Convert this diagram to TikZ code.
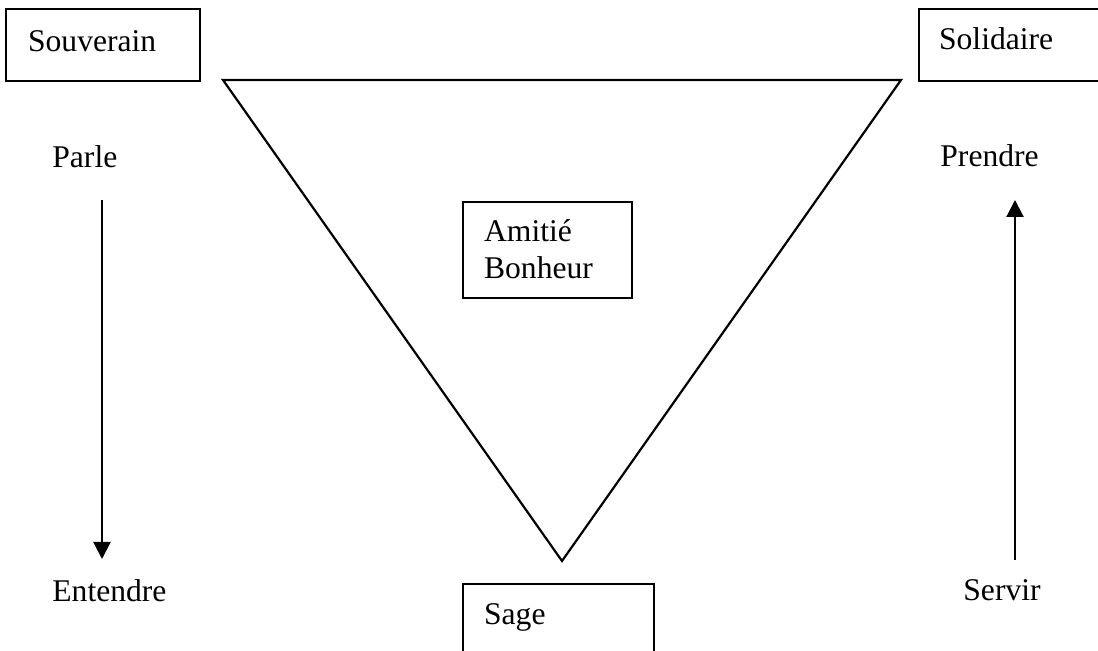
\documentclass[tikz,border=0pt]{standalone}
\usepackage{fontspec}
\setmainfont{Liberation Serif}
\usetikzlibrary{arrows.meta}

\begin{document}
\begin{tikzpicture}[
    x=0.5pt, y=-0.5pt,
    every node/.style={inner sep=0pt, font=\fontsize{15.8}{18.5}\selectfont},
    word/.style={anchor=base west},
    box/.style={draw, line width=1.1pt, anchor=north west, align=left, inner ysep=0pt},
    link/.style={-{Triangle[width=8.5pt,length=8.5pt]}, line width=1.1pt},
  ]
  \useasboundingbox (0,0) rectangle (1098,651);
  % the four boxes
  \node[box, inner xsep=11pt, text width=75pt, text height=21pt, text depth=15pt] (souverain) at (5,8) {Souverain};
  \node[box, inner xsep=10pt, text width=100pt, text height=20pt, text depth=16pt] (solidaire) at (918,8) {Solidaire};
  \node[box, inner xsep=10.5pt, text width=63.5pt, text height=19.5pt, text depth=28.5pt] (amitie) at (462,201) {Amitié\\Bonheur};
  \node[box, inner xsep=10.5pt, text width=74.5pt, text height=20pt, text depth=40pt] (sage) at (462,583) {Sage};
  % the triangle
  \coordinate (tri-left) at (223,80);
  \coordinate (tri-right) at (901,80);
  \coordinate (tri-apex) at (562,561);
  \draw[line width=1.1pt] (tri-left) -- (tri-right) -- (tri-apex) -- cycle;
  % words and arrows
  \node[word] (parle) at (52,168) {Parle};
  \node[word] (entendre) at (52,602) {Entendre};
  \node[word] (prendre) at (940,167) {Prendre};
  \node[word] (servir) at (963,601) {Servir};
  \coordinate (down-start) at (102,200);
  \coordinate (down-end) at (102,559);
  \coordinate (up-start) at (1015,560);
  \coordinate (up-end) at (1015,200);
  \draw[link] (down-start) -- (down-end);
  \draw[link] (up-start) -- (up-end);
\end{tikzpicture}
\end{document}
